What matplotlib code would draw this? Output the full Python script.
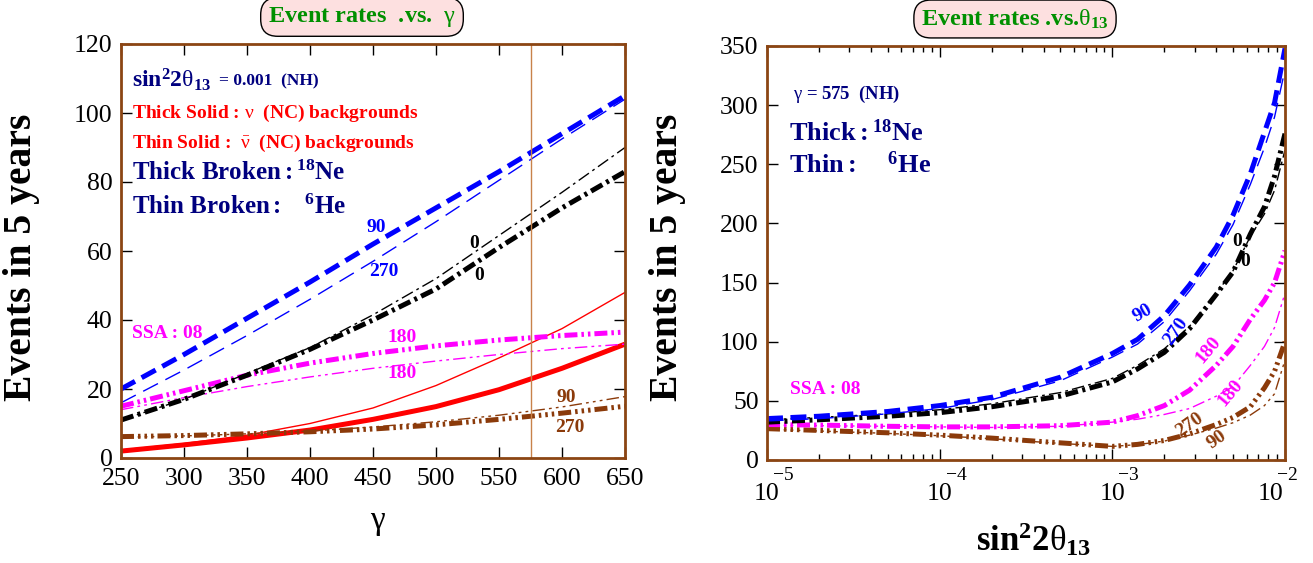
import matplotlib
matplotlib.use('Agg')
import matplotlib.pyplot as plt
import matplotlib.transforms as mtransforms
from matplotlib.ticker import LogLocator, NullFormatter, MultipleLocator

plt.rcParams['font.family'] = ['Liberation Serif', 'DejaVu Serif']
plt.rcParams['mathtext.fontset'] = 'custom'
plt.rcParams['mathtext.rm'] = 'Liberation Serif'
plt.rcParams['mathtext.it'] = 'Liberation Serif'
plt.rcParams['mathtext.bf'] = 'Liberation Serif:bold'

# ---------------- data: left panel (events vs gamma) ----------------
gamma = [250, 300, 350, 400, 450, 500, 550, 600, 650]
ne_90 = [20, 30, 40.5, 51, 62, 72.5, 83, 94, 105]
he_270 = [16, 25.5, 35.5, 46, 57, 68.5, 80.5, 92.5, 104]
ne_0 = [11, 17, 24, 31.5, 40, 49, 61, 72.5, 83]
he_0 = [11, 17, 24.5, 32, 41.5, 52, 64.5, 77, 90]
ne_180 = [15, 19.5, 24, 27.5, 30.3, 32.5, 34.2, 35.5, 36.5]
he_180 = [14, 17.5, 20.7, 23.5, 26, 28.1, 30, 31.7, 33]
nu_bg = [2, 3.8, 5.8, 8.1, 11.2, 14.9, 19.8, 26, 33]
nubar_bg = [2.3, 4.2, 6.6, 10, 14.5, 21, 29, 37.5, 48]
ne_270 = [6.2, 6.5, 7, 7.6, 8.4, 9.6, 11.2, 13, 15]
he_90 = [6, 6.4, 7, 7.8, 9, 10.5, 12.4, 14.8, 17.8]
gamma_ref = 575

# ---------------- data: right panel (events vs sin^2 2theta13) ------
s2t = [1e-5, 2e-5, 5e-5, 1e-4, 2e-4, 5e-4, 1e-3, 1.4e-3, 2e-3, 2.8e-3,
       4e-3, 5e-3, 6.3e-3, 7.6e-3, 8.7e-3, 1e-2]
r_ne_90 = [35, 37, 41, 46, 53, 70, 90, 102, 122, 148, 180, 207, 242, 277, 302, 348]
r_he_270 = [33, 35, 39, 43.5, 51, 67, 87, 98, 117, 143, 174, 199, 233, 264, 290, 330]
r_ne_0 = [32, 34, 37, 40, 45, 54, 66, 77, 91, 111, 140, 159, 191, 214, 240, 276]
r_he_0 = [34, 36, 39, 42.5, 47.5, 57, 69, 80, 94, 113, 141, 160, 189, 208, 228, 262]
r_ne_180 = [30, 29.5, 28.5, 28, 28, 29, 32, 37.5, 46, 59, 80, 96, 119, 135, 150, 177]
r_he_180 = [29.5, 29, 28.5, 28, 27.5, 28.5, 32, 34.5, 38.5, 43.5, 54, 62, 80, 96, 112, 141]
r_ne_270 = [26.5, 25, 23, 21, 18.5, 14.5, 11.5, 13.2, 16.5, 22, 30, 36, 45, 61, 75, 100]
r_he_90 = [26, 24.5, 22.5, 20.5, 18, 14, 11.5, 13, 16, 21, 27, 31.5, 38, 46, 56, 84.5]
log_majors = [1e-5, 1e-4, 1e-3, 1e-2]
log_exps = ['\u22125', '\u22124', '\u22123', '\u22122']
log_label_shift_px = [0, 0, 0, -14]

W, H = 1313, 563
fig = plt.figure(figsize=(W / 100, H / 100), dpi=100)
ax1 = fig.add_axes([121 / W, 1 - 458 / H, (625 - 121) / W, (458 - 44) / H])
ax2 = fig.add_axes([767 / W, 1 - 460 / H, (1285 - 767) / W, (460 - 46) / H])

BLUE = '#0000ff'
MAG = '#ff00ff'
BROWN = '#8b3a0a'
RED = '#ff0000'
NAVY = '#00007f'
GREEN = '#009000'
SPINE = '#8b4513'

TK = 3.6  # thick width
TN = 1.0  # thin width
dash_thick = (3.2, 1.5)
dash_thin = (12, 6)
dd_thick = (2.6, 0.9, 0.6, 0.9)
dd_thin = (9, 3, 2, 3)
ddd_thick = (2.6, 0.8, 0.5, 0.8, 0.5, 0.8)
ddd_thin = (9, 3, 2, 3, 2, 3)
d3_thick = (2.6, 0.8, 0.5, 0.8, 0.5, 0.8, 0.5, 0.8)
d3_thin = (9, 3, 2, 3, 2, 3, 2, 3)


def draw(ax, x, series):
    for y, c, lw, d in series:
        if d is None:
            ax.plot(x, y, color=c, lw=lw, solid_capstyle='butt', solid_joinstyle='round')
        else:
            ax.plot(x, y, color=c, lw=lw, dashes=d, dash_capstyle='butt',
                    dash_joinstyle='round')


draw(ax1, gamma, [
    (nubar_bg, RED, TN, None),
    (nu_bg, RED, TK, None),
    (he_90, BROWN, TN, d3_thin),
    (ne_270, BROWN, TK, d3_thick),
    (he_180, MAG, TN, ddd_thin),
    (ne_180, MAG, TK, ddd_thick),
    (he_0, 'black', TN, dd_thin),
    (ne_0, 'black', TK, dd_thick),
    (he_270, BLUE, TN, dash_thin),
    (ne_90, BLUE, TK, dash_thick),
])
ax1.axvline(gamma_ref, color='#c8824a', lw=1.0)

draw(ax2, s2t, [
    (r_he_90, BROWN, TN, d3_thin),
    (r_ne_270, BROWN, TK, d3_thick),
    (r_he_180, MAG, TN, ddd_thin),
    (r_ne_180, MAG, TK, ddd_thick),
    (r_he_0, 'black', TN, dd_thin),
    (r_ne_0, 'black', TK, dd_thick),
    (r_he_270, BLUE, TN, dash_thin),
    (r_ne_90, BLUE, TK, dash_thick),
])

# axes formatting
ax1.set_xlim(250, 650)
ax1.set_ylim(0, 120)
ax1.xaxis.set_major_locator(MultipleLocator(50))
ax1.yaxis.set_major_locator(MultipleLocator(20))

ax2.set_xscale('log')
ax2.set_xlim(1e-5, 1e-2)
ax2.set_ylim(0, 350)
ax2.yaxis.set_major_locator(MultipleLocator(50))
ax2.set_xticks(log_majors)
ax2.set_xticklabels([])
ax2.xaxis.set_minor_locator(LogLocator(base=10, subs=range(2, 10), numticks=20))
ax2.xaxis.set_minor_formatter(NullFormatter())

for ax in (ax1, ax2):
    for s in ax.spines.values():
        s.set_color(SPINE)
        s.set_linewidth(2)
    ax.tick_params(which='major', direction='in', length=8, width=1,
                   top=True, right=True, labelsize=18.5, colors='black')
    ax.tick_params(which='minor', direction='in', length=4, width=1,
                   top=True, right=True)
    ax.tick_params(axis='y', pad=6)
    ax.tick_params(axis='x', pad=7.5)

# log tick labels: "10" centred on the tick, exponent raised to the upper right
trans = mtransforms.blended_transform_factory(ax2.transData, fig.transFigure)
for xv, ex, sh in zip(log_majors, log_exps, log_label_shift_px):
    off = mtransforms.ScaledTranslation(sh / 100, 0, fig.dpi_scale_trans)
    ax2.text(xv, 1 - 494 / H, '10', transform=trans + off, ha='center', va='center',
             fontsize=18.5, clip_on=False)
    off2 = mtransforms.ScaledTranslation((sh + 6) / 100, 0, fig.dpi_scale_trans)
    ax2.text(xv, 1 - 476 / H, ex, transform=trans + off2, ha='left', va='center',
             fontsize=14, clip_on=False)


def T(x, y, s, **kw):
    kw.setdefault('ha', 'left')
    kw.setdefault('va', 'center')
    fig.text(x / W, 1 - y / H, s, **kw)


# axis labels
T(22, 257, 'Events in 5 years', fontsize=28.5, fontweight='bold', rotation=90, ha='center')
T(668, 257, 'Events in 5 years', fontsize=28.5, fontweight='bold', rotation=90, ha='center')
T(378, 523, r'$\gamma$', fontsize=24, ha='center')
T(1034, 540, r'$\mathbf{sin^{2}2}\theta_{\mathbf{13}}$', fontsize=25, ha='center')

# titles
box = dict(boxstyle='round,pad=0.3,rounding_size=0.7', fc='#fde0e0', ec='black', lw=1)
T(362, 17, r'Event rates  .vs.  $\gamma$', fontsize=17.5, fontweight='bold', color=GREEN,
  ha='center', bbox=box)
T(1015, 19, r'Event rates .vs.$\theta_{\mathbf{13}}$', fontsize=17.5, fontweight='bold',
  color=GREEN, ha='center', bbox=box)

# left panel annotations
T(132, 80, r'$\mathbf{sin^{2}2}\theta_{\mathbf{13}}$', fontsize=17, color=NAVY)
T(219, 81, '= 0.001  (NH)', fontsize=12.5, fontweight='bold', color=NAVY)
T(132, 113, r'Thick Solid : $\nu$  (NC) backgrounds', fontsize=14, fontweight='bold', color=RED)
T(132, 143, r'Thin Solid :  $\bar{\nu}$  (NC) backgrounds', fontsize=14, fontweight='bold', color=RED)
T(132, 173, r'$\mathbf{Thick\ Broken:}{}^{\mathbf{18}}\mathbf{Ne}$', fontsize=18, color=NAVY)
T(132, 207, r'$\mathbf{Thin\ Broken:\ \ \ }{}^{\mathbf{6}}\mathbf{He}$', fontsize=18, color=NAVY)

lab = dict(fontsize=14, fontweight='bold', ha='center')
T(376, 228, '90', color=BLUE, **lab)
T(384, 272, '270', color=BLUE, **lab)
T(474, 243, '0', color='black', **lab)
T(479, 275, '0', color='black', **lab)
T(132, 333, 'SSA : 08', color=MAG, fontsize=14, fontweight='bold')
T(402, 337, '180', color=MAG, **lab)
T(402, 374, '180', color=MAG, **lab)
T(566, 397, '90', color=BROWN, **lab)
T(570, 428, '270', color=BROWN, **lab)

# right panel annotations
T(793, 94, r'$\gamma$ = 575  (NH)', fontsize=13.5, fontweight='bold', color=NAVY)
T(789, 133, r'$\mathbf{Thick:}{}^{\mathbf{18}}\mathbf{Ne}$', fontsize=19, color=NAVY)
T(789, 165, r'$\mathbf{Thin:\ \ \ \ }{}^{\mathbf{6}}\mathbf{He}$', fontsize=19, color=NAVY)
T(790, 389, 'SSA : 08', color=MAG, fontsize=14, fontweight='bold')
T(1143, 313, '90', color=BLUE, rotation=30, **lab)
T(1176, 331, '270', color=BLUE, rotation=55, **lab)
T(1237, 241, '0', color='black', **lab)
T(1245, 262, '0', color='black', **lab)
T(1208, 350, '180', color=MAG, rotation=50, **lab)
T(1230, 393, '180', color=MAG, rotation=50, **lab)
T(1190, 425, '270', color=BROWN, rotation=35, **lab)
T(1217, 440, '90', color=BROWN, rotation=35, **lab)

fig.savefig('out.png', dpi=100)
